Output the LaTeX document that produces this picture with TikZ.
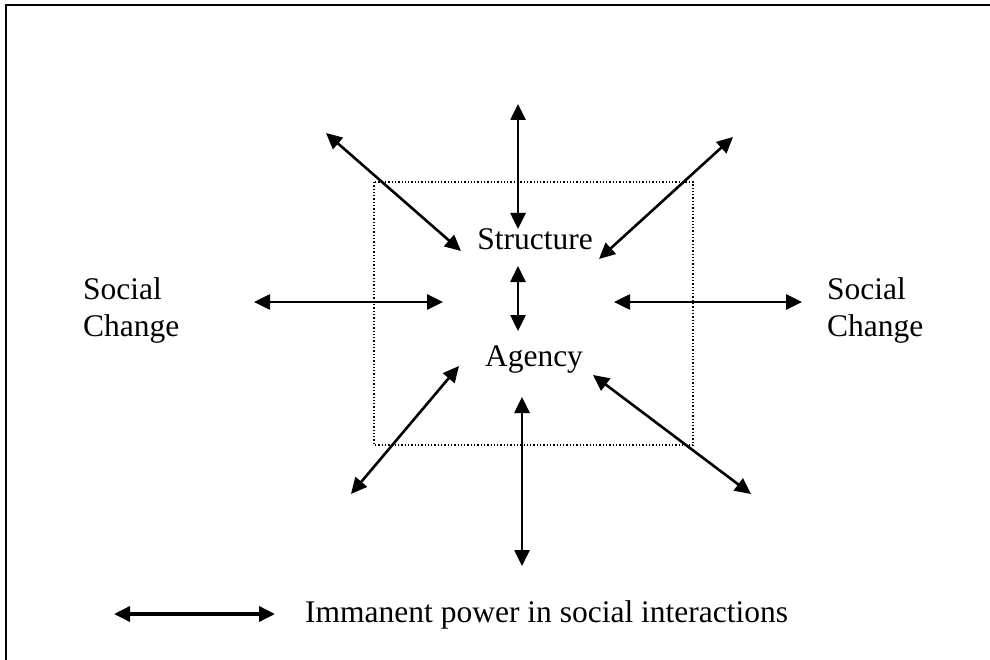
\documentclass[tikz,border=0pt]{standalone}
\usepackage{fontspec}
\setmainfont{Liberation Serif}
\usetikzlibrary{arrows.meta}
\begin{document}
\begin{tikzpicture}[x=1pt,y=-1pt,
  lbl/.style={inner sep=0pt,font=\fontsize{31.5}{37}\selectfont},
  dblarrow/.style={line width=2.6pt,{Triangle[length=16pt,width=15pt]}-{Triangle[length=16pt,width=15pt]}},
  framebox/.style={line width=2.5pt},
  dotbox/.style={line width=1.3pt,dotted}]
\useasboundingbox (0,0) rectangle (990,660);
\fill[white] (0,0) rectangle (990,660);
% outer frame (only left and top visible)
\draw[framebox] (6,680) -- (6,5) -- (1000,5);
% dotted square
\draw[dotbox] (374,182) rectangle (693,445);
% labels
\node[lbl,anchor=base] (structure) at (535,250) {Structure};
\node[lbl,anchor=base] (agency) at (534,366) {Agency};
\node[lbl,anchor=north west,align=left] (scl) at (83,277) {Social\\Change};
\node[lbl,anchor=north west,align=left] (scr) at (827,277) {Social\\Change};
\node[lbl,anchor=base west] (legendtext) at (305,622) {Immanent power in social interactions};
% coordinates
\coordinate (tvA) at (518,104);
\coordinate (tvB) at (518,229);
\coordinate (mvA) at (518,266);
\coordinate (mvB) at (518,331);
\coordinate (lhA) at (254,302);
\coordinate (lhB) at (443,302);
\coordinate (rhA) at (614,302);
\coordinate (rhB) at (802,302);
\coordinate (tlA) at (326,133);
\coordinate (tlB) at (461,251);
\coordinate (trA) at (733,137);
\coordinate (trB) at (599,259);
\coordinate (blA) at (459,366);
\coordinate (blB) at (351,494);
\coordinate (bvA) at (522,397);
\coordinate (bvB) at (522,566);
\coordinate (brA) at (593,375);
\coordinate (brB) at (751,494);
\coordinate (lgA) at (114,614);
\coordinate (lgB) at (275,614);
% arrows
\draw[dblarrow] (tvA) -- (tvB);
\draw[dblarrow] (mvA) -- (mvB);
\draw[dblarrow] (lhA) -- (lhB);
\draw[dblarrow] (rhA) -- (rhB);
\draw[dblarrow] (tlA) -- (tlB);
\draw[dblarrow] (trA) -- (trB);
\draw[dblarrow] (blA) -- (blB);
\draw[dblarrow] (bvA) -- (bvB);
\draw[dblarrow] (brA) -- (brB);
\draw[dblarrow,line width=3.5pt] (lgA) -- (lgB);
\end{tikzpicture}
\end{document}
